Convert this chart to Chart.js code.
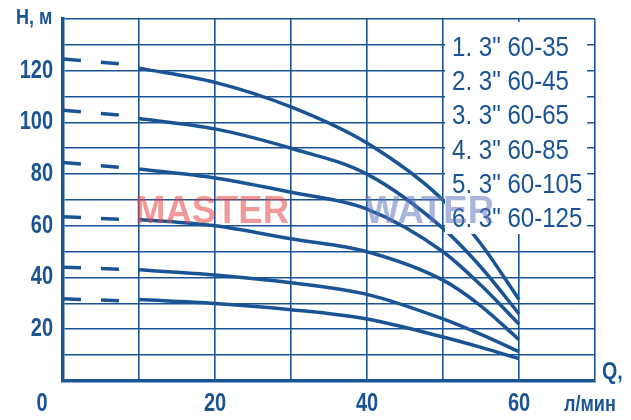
<!DOCTYPE html>
<html><head><meta charset="utf-8">
<script src="https://cdn.jsdelivr.net/npm/chart.js@4"></script>
<style>html,body{margin:0;padding:0;background:#fff}#w{width:631px;height:420px}</style>
</head><body><div id="w"><canvas id="c"></canvas></div>
<script>
const flowQ = [10, 20, 30, 40, 50, 55, 60];
const dashQ = [0, 8];
const names = ['1. 3" 60-35','2. 3" 60-45','3. 3" 60-65','4. 3" 60-85','5. 3" 60-105','6. 3" 60-125'];
const head1 = [31.5, 30, 27.6, 24, 17, 13, 8.6];
const head2 = [43, 41, 38, 33.5, 24, 18, 11.3];
const head3 = [62.5, 60, 55, 50, 39, 29, 16];
const head4 = [82, 78.5, 73, 66.5, 50, 37, 22];
const head5 = [101.5, 97.5, 90, 80, 59, 44, 26];
const head6 = [121, 115.5, 106, 92, 70, 53, 31.5];
const dash1 = [31.8, 31];
const dash2 = [44, 43.2];
const dash3 = [63.5, 62.5];
const dash4 = [84.5, 82.5];
const dash5 = [104.7, 102.7];
const dash6 = [124.5, 122.5];
const xTicks = [0, 20, 40, 60];
const yTicks = [20, 40, 60, 80, 100, 120];
const C = '#1a5494';
const heads = [head1, head2, head3, head4, head5, head6];
const dashes = [dash1, dash2, dash3, dash4, dash5, dash6];
const ds = [];
heads.forEach(h => ds.push({data: flowQ.map((q, i) => ({x: q, y: h[i]})), borderColor: C, borderWidth: 3.5, pointRadius: 0, cubicInterpolationMode: 'monotone', fill: false}));
dashes.forEach(h => ds.push({data: dashQ.map((q, i) => ({x: q, y: h[i]})), borderColor: C, borderWidth: 3.5, pointRadius: 0, borderDash: [18, 20], fill: false}));
const F = '"Liberation Sans", Arial';
function txt(g, s, x, y, font, k, align) {
  g.save();
  g.font = font;
  const w = g.measureText(s).width * k;
  let x0 = align === 'right' ? x - w : align === 'center' ? x - w / 2 : x;
  g.translate(x0, y);
  g.scale(k, 1);
  g.textAlign = 'left';
  g.fillText(s, 0, 0);
  g.restore();
}
const overlay = {
  id: 'overlay',
  afterDatasetsDraw(ch) {
    const g = ch.ctx, xs = ch.scales.x, ys = ch.scales.y;
    g.save();
    g.textBaseline = 'middle';
    g.fillStyle = '#fff';
    g.fillRect(445, 22, 142, 212);
    g.fillStyle = C;
    names.forEach((n, i) => txt(g, n, 452, 48 + i * 34.3, '28px ' + F, 0.86, 'left'));
    g.fillStyle = 'rgba(230,70,70,0.55)';
    txt(g, 'MASTER', 135, 213, 'bold 38px ' + F, 0.96, 'left');
    g.fillStyle = 'rgba(100,120,190,0.55)';
    txt(g, 'WATER', 365, 213, 'bold 38px ' + F, 0.96, 'left');
    g.fillStyle = C;
    yTicks.forEach(v => txt(g, String(v), 53, ys.getPixelForValue(v), 'bold 25px ' + F, 0.8, 'right'));
    xTicks.forEach(v => txt(g, String(v), v === 0 ? 42 : xs.getPixelForValue(v), 404, 'bold 25px ' + F, 0.8, 'center'));
    txt(g, 'H, м', 16, 18, 'bold 22px ' + F, 0.82, 'left');
    txt(g, 'Q,', 602, 372, 'bold 24px ' + F, 0.82, 'left');
    txt(g, 'л/мин', 564, 405, 'bold 22px ' + F, 0.82, 'left');
    g.restore();
  }
};
new Chart(document.getElementById('c'), {
  type: 'line',
  data: {datasets: ds},
  plugins: [overlay],
  options: {
    responsive: true, maintainAspectRatio: false, animation: false,
    layout: {padding: {left: 63, right: 36, top: 19, bottom: 39}},
    plugins: {legend: {display: false}, tooltip: {enabled: false}},
    scales: {
      x: {type: 'linear', min: 0, max: 70, ticks: {display: false, stepSize: 10},
          grid: {color: C, lineWidth: 1.6, drawTicks: false}, border: {color: C, width: 3.5}},
      y: {min: 0, max: 140, ticks: {display: false, stepSize: 10},
          grid: {color: C, lineWidth: 1.6, drawTicks: false}, border: {color: C, width: 3.5}}
    }
  }
});
</script></body></html>
